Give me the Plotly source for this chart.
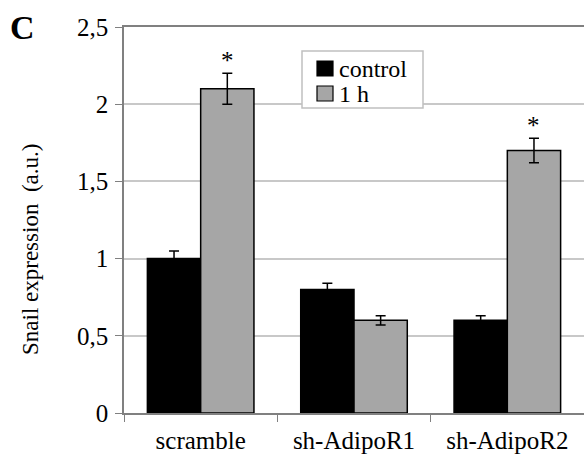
import plotly.graph_objects as go

categories = ["scramble", "sh-AdipoR1", "sh-AdipoR2"]
series_names = ["control", "1 h"]
series_colors = ["#000000", "#a6a6a6"]
control_vals = [1.0, 0.8, 0.6]
control_err = [0.05, 0.04, 0.03]
h1_vals = [2.1, 0.6, 1.7]
h1_err = [0.1, 0.03, 0.08]
significant = [True, False, True]
ytick_vals = [0, 0.5, 1, 1.5, 2, 2.5]
ytick_text = ["0", "0,5", "1", "1,5", "2", "2,5"]

FONT = "Liberation Serif"

fig = go.Figure()
for name, color, vals, errs in zip(series_names, series_colors,
                                    [control_vals, h1_vals], [control_err, h1_err]):
    fig.add_trace(go.Bar(
        x=categories, y=vals, name=name,
        marker=dict(color=color, line=dict(color="#000000", width=1.5)),
        error_y=dict(type="data", array=errs, color="#000000", thickness=1.5, width=5),
    ))

W, H = 584, 465
ml, mr, mt, mb = 124, 0, 27, 52
pw = W - ml - mr
ph = H - mt - mb


def px_x(px):
    return (px - ml) / pw


def px_y(py):
    return (H - mb - py) / ph


# significance asterisks above the 1 h bars
for i, (cat, sig) in enumerate(zip(categories, significant)):
    if sig:
        fig.add_annotation(
            x=cat, y=h1_vals[i] + h1_err[i], xref="x", yref="y",
            text="*", showarrow=False, xshift=pw / 3 * 0.695 / 4,
            yanchor="bottom", yshift=-3,
            font=dict(family=FONT, size=25, color="#000000"),
        )

# panel letter
fig.add_annotation(
    xref="paper", yref="paper", x=px_x(22), y=px_y(27),
    text="<b>C</b>", showarrow=False, xanchor="center", yanchor="middle",
    font=dict(family=FONT, size=34, color="#000000"),
)
# y-axis title
fig.add_annotation(
    xref="paper", yref="paper", x=px_x(30), y=px_y(250),
    text="Snail expression  (a.u.)", textangle=-90, showarrow=False,
    xanchor="center", yanchor="middle",
    font=dict(family=FONT, size=23, color="#000000"),
)

# compact legend box (drawn like the original)
fig.add_shape(type="rect", xref="paper", yref="paper",
              x0=px_x(302), x1=px_x(423), y0=px_y(108), y1=px_y(51),
              line=dict(color="#c0c0c0", width=1.5), fillcolor="white", layer="above")
for k, (name, color) in enumerate(zip(series_names, series_colors)):
    top = 61 + 25 * k
    fig.add_shape(type="rect", xref="paper", yref="paper",
                  x0=px_x(317), x1=px_x(333), y0=px_y(top + 15), y1=px_y(top),
                  line=dict(color="#000000", width=1.2), fillcolor=color, layer="above")
    fig.add_annotation(
        xref="paper", yref="paper", x=px_x(337), y=px_y(top + 8),
        text=name, showarrow=False, xanchor="left", yanchor="middle",
        font=dict(family=FONT, size=24, color="#000000"),
    )

fig.update_layout(
    width=W, height=H,
    margin=dict(l=ml, r=mr, t=mt, b=mb, pad=0),
    paper_bgcolor="white", plot_bgcolor="white",
    barmode="group", bargap=0.305, bargroupgap=0,
    font=dict(family=FONT, size=25, color="#000000"),
    showlegend=False,
    xaxis=dict(
        type="category", tickson="boundaries", ticks="outside", ticklen=7,
        tickcolor="#808080", showline=True, linecolor="#808080", linewidth=1.5,
        mirror=True, showgrid=False, ticklabelstandoff=4,
        tickfont=dict(family=FONT, size=25, color="#000000"),
    ),
    yaxis=dict(
        range=[0, 2.5], tickvals=ytick_vals, ticktext=ytick_text,
        ticks="outside", ticklen=7, tickcolor="#808080",
        showline=True, linecolor="#808080", linewidth=1.5,
        showgrid=True, gridcolor="#c8c8c8", gridwidth=1.5, zeroline=False,
        ticklabelstandoff=2,
        tickfont=dict(family=FONT, size=25, color="#000000"),
    ),
)

fig.write_html("out.html", config={"displayModeBar": False},
               post_script="document.body.style.margin='0';")
